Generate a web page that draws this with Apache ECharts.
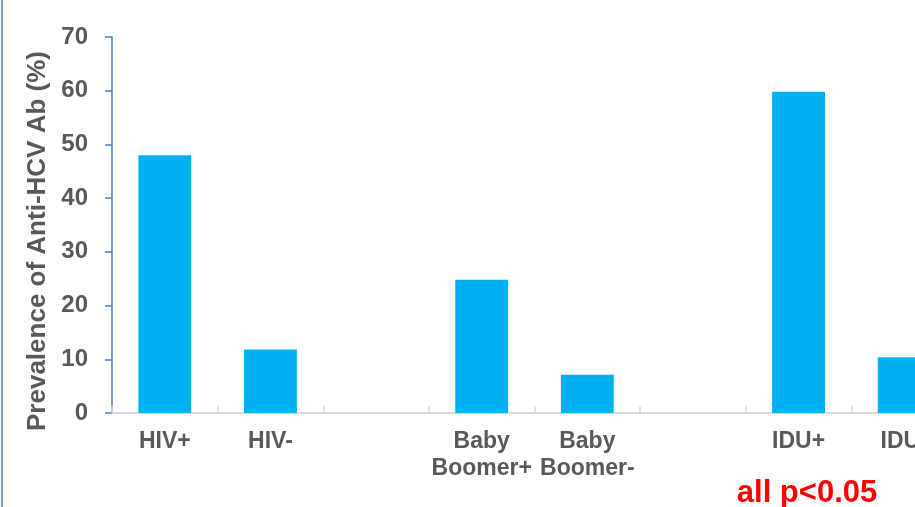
<!DOCTYPE html>
<html>
<head>
<meta charset="utf-8">
<script src="https://cdn.jsdelivr.net/npm/echarts@6/dist/echarts.min.js"></script>
<style>
  html, body { margin: 0; padding: 0; background: #fff; overflow: hidden; width: 915px; height: 507px; }
  #chart { width: 960px; height: 507px; }
</style>
</head>
<body>
<div id="chart"></div>
<script>
// Anti-HCV antibody prevalence by group; blank slots separate the groups
const categories = ['HIV+', 'HIV-', '', 'Baby\nBoomer+', 'Baby\nBoomer-', '', 'IDU+', 'IDU-'];
const prevalence = [48, 11.8, null, 24.8, 7.1, null, 59.8, 10.4];
const yTicks = { min: 0, max: 70, interval: 10 };
const yTitle = 'Prevalence of Anti-HCV Ab (%)';
const note = 'all p<0.05';

const chart = echarts.init(document.getElementById('chart'), null, { renderer: 'canvas' });
const font = 'Liberation Sans, Arial, sans-serif';

chart.setOption({
  animation: false,
  // plot area runs past the right edge of the page, so the last bar is clipped
  grid: { left: 112, right: 3, top: 37, bottom: 94, containLabel: false },
  xAxis: {
    type: 'category',
    data: categories,
    axisLine: { lineStyle: { color: '#d9d9d9', width: 2 } },
    axisTick: { show: true, inside: true, length: 7, lineStyle: { color: '#d9d9d9', width: 1.5 } },
    axisLabel: {
      color: '#595959', fontFamily: font, fontWeight: 'bold', fontSize: 23,
      margin: 15, lineHeight: 27, interval: 0
    }
  },
  yAxis: {
    type: 'value',
    min: yTicks.min, max: yTicks.max, interval: yTicks.interval,
    axisLine: { show: true, lineStyle: { color: '#4a7ebb', width: 1.5 } },
    axisTick: { show: true, length: 7, lineStyle: { color: '#4a7ebb', width: 1.5 } },
    splitLine: { show: false },
    axisLabel: { color: '#595959', fontFamily: font, fontWeight: 'bold', fontSize: 24, margin: 24 }
  },
  series: [{
    type: 'bar',
    data: prevalence,
    barWidth: '50%',
    itemStyle: { color: '#00b0f0' }
  }],
  graphic: [
    {
      type: 'line',
      shape: { x1: 2, y1: 0, x2: 2, y2: 507 },
      style: { stroke: '#4a7ebb', lineWidth: 1.5 }
    },
    {
      type: 'text',
      x: 38, y: 241, rotation: Math.PI / 2,
      style: {
        text: yTitle, fill: '#595959', font: 'bold 26px ' + font,
        textAlign: 'center', textVerticalAlign: 'middle'
      }
    },
    {
      type: 'text',
      x: 807, y: 493,
      style: {
        text: note, fill: '#ff0000', font: 'bold 31px ' + font,
        textAlign: 'center', textVerticalAlign: 'middle'
      }
    }
  ]
});
</script>
</body>
</html>
